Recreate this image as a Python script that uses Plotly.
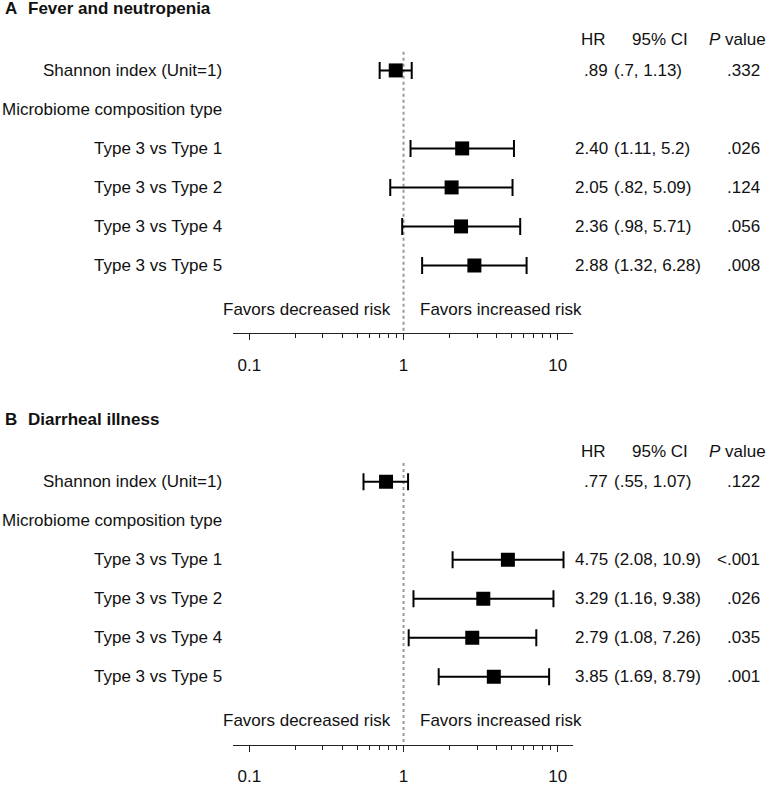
import plotly.graph_objects as go

# ---- data ----
row_labels = ["Shannon index (Unit=1)", "Microbiome composition type",
              "Type 3 vs Type 1", "Type 3 vs Type 2", "Type 3 vs Type 4", "Type 3 vs Type 5"]
rows = [1, 2, 3, 4, 5, 6]
est_rows = [1, 3, 4, 5, 6]

a_hr = [0.89, 2.40, 2.05, 2.36, 2.88]
a_lo = [0.70, 1.11, 0.82, 0.98, 1.32]
a_hi = [1.13, 5.20, 5.09, 5.71, 6.28]
a_hr_txt = [".89", "2.40", "2.05", "2.36", "2.88"]
a_ci_txt = ["(.7, 1.13)", "(1.11, 5.2)", "(.82, 5.09)", "(.98, 5.71)", "(1.32, 6.28)"]
a_p_txt = [".332", ".026", ".124", ".056", ".008"]

b_hr = [0.77, 4.75, 3.29, 2.79, 3.85]
b_lo = [0.55, 2.08, 1.16, 1.08, 1.69]
b_hi = [1.07, 10.9, 9.38, 7.26, 8.79]
b_hr_txt = [".77", "4.75", "3.29", "2.79", "3.85"]
b_ci_txt = ["(.55, 1.07)", "(2.08, 10.9)", "(1.16, 9.38)", "(1.08, 7.26)", "(1.69, 8.79)"]
b_p_txt = [".122", "<.001", ".026", ".035", ".001"]

major_ticks = [0.1, 1, 10]
major_tick_text = ["0.1", "1", "10"]
minor_ticks = [0.2, 0.3, 0.4, 0.5, 0.6, 0.7, 0.8, 0.9, 2, 3, 4, 5, 6, 7, 8, 9]

W, H = 771, 786
FONT = "Liberation Sans, Arial, sans-serif"
FS = 17
PX_ROW = 39.4
AX_ROW = 7.74

def px(x):
    return x / W

fig = go.Figure()

panels = [
    dict(letter="A", title="Fever and neutropenia", hr=a_hr, lo=a_lo, hi=a_hi,
         hr_txt=a_hr_txt, ci_txt=a_ci_txt, p_txt=a_p_txt,
         top=0.0, bottom=336.7, title_row=-0.6, xa="x", ya="y"),
    dict(letter="B", title="Diarrheal illness", hr=b_hr, lo=b_lo, hi=b_hi,
         hr_txt=b_hr_txt, ci_txt=b_ci_txt, p_txt=b_p_txt,
         top=393.0, bottom=752.3, title_row=-0.61, xa="x2", ya="y2"),
]

layout_axes = {}
annotations = []
shapes = []
txtfont = dict(family=FONT, size=FS, color="#111")
for i, p in enumerate(panels):
    sfx = "" if i == 0 else "2"
    span_rows = (p["bottom"] - p["top"]) / PX_ROW
    yrange = [AX_ROW, AX_ROW - span_rows]
    dom = [1 - p["bottom"] / H, 1 - p["top"] / H]
    layout_axes["xaxis" + sfx] = dict(
        type="log", range=[-1.104, 1.097], domain=[233.3 / W, 572.7 / W],
        anchor="y" + sfx, showline=True, linecolor="#222", linewidth=1,
        showgrid=False, zeroline=False,
        tickmode="array", tickvals=major_ticks, ticktext=major_tick_text,
        ticks="outside", ticklen=6, tickwidth=1, tickcolor="#222",
        ticklabelstandoff=10,
        tickfont=txtfont,
        minor=dict(tickmode="array", tickvals=minor_ticks, ticks="outside",
                   ticklen=4, tickwidth=1, tickcolor="#222", showgrid=False),
    )
    layout_axes["yaxis" + sfx] = dict(
        range=yrange, domain=dom, anchor="x" + sfx, visible=False,
        showgrid=False, zeroline=False,
    )

    # reference line at HR = 1
    shapes.append(dict(type="line", xref=p["xa"], yref=p["ya"], x0=1, x1=1,
                       y0=0.52, y1=AX_ROW,
                       line=dict(color="#999", width=2, dash="3px,3px"), layer="below"))

    hr = p["hr"]
    fig.add_trace(go.Scatter(
        x=hr, y=est_rows, mode="markers", xaxis=p["xa"], yaxis=p["ya"],
        marker=dict(symbol="square", size=14, color="black"),
        error_x=dict(type="data", symmetric=False,
                     array=[h - m for h, m in zip(p["hi"], hr)],
                     arrayminus=[m - l for m, l in zip(hr, p["lo"])],
                     color="black", thickness=2, width=8.5),
        showlegend=False, hoverinfo="skip"))

    # titles
    annotations.append(dict(text="<b>" + p["letter"] + "</b>", x=px(3), xanchor="left",
                            y=p["title_row"], yref=p["ya"], xref="paper", showarrow=False,
                            font=txtfont))
    annotations.append(dict(text="<b>" + p["title"] + "</b>", x=px(26), xanchor="left",
                            y=p["title_row"], yref=p["ya"], xref="paper", showarrow=False,
                            font=txtfont))
    # headers
    for txt, cx in [("HR", 593), ("95% CI", 659.5), ("<i>P</i> value", 737)]:
        annotations.append(dict(text=txt, x=px(cx), xanchor="center", y=0.213,
                                yref=p["ya"], xref="paper", showarrow=False,
                                font=txtfont))
    # row labels
    for lab, r in zip(row_labels, rows):
        annotations.append(dict(text=lab, x=px(224), xanchor="right", y=r,
                                yref=p["ya"], xref="paper", showarrow=False,
                                font=txtfont))
    # stats
    for r, h, c, pv in zip(est_rows, p["hr_txt"], p["ci_txt"], p["p_txt"]):
        annotations.append(dict(text=h, x=px(610), xanchor="right", y=r, yref=p["ya"],
                                xref="paper", showarrow=False, font=txtfont))
        annotations.append(dict(text=c, x=px(612), xanchor="left", y=r, yref=p["ya"],
                                xref="paper", showarrow=False, font=txtfont))
        annotations.append(dict(text=pv, x=px(762), xanchor="right", y=r, yref=p["ya"],
                                xref="paper", showarrow=False, font=txtfont))
    # favors
    annotations.append(dict(text="Favors decreased risk", x=px(393), xanchor="right",
                            y=7.13, yref=p["ya"], xref="paper", showarrow=False,
                            font=txtfont))
    annotations.append(dict(text="Favors increased risk", x=px(418), xanchor="left",
                            y=7.13, yref=p["ya"], xref="paper", showarrow=False,
                            font=txtfont))

fig.update_layout(
    width=W, height=H, margin=dict(l=0, r=0, t=0, b=0),
    paper_bgcolor="white", plot_bgcolor="white",
    annotations=annotations, shapes=shapes, showlegend=False,
    **layout_axes,
)

fig.write_html("out.html", config={"displayModeBar": False})

# remove the default page margin so the figure fills the window exactly
with open("out.html", "r", encoding="utf-8") as f:
    html = f.read()
html = html.replace("<head>", "<head><style>html,body{margin:0;padding:0;overflow:hidden;}</style>", 1)
with open("out.html", "w", encoding="utf-8") as f:
    f.write(html)
